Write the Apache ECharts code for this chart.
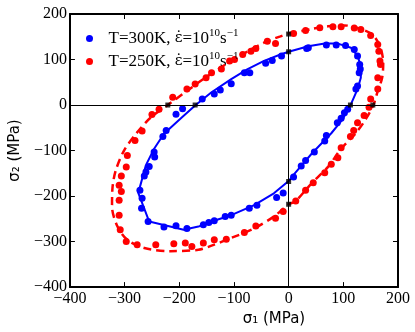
<!DOCTYPE html>
<html><head><meta charset="utf-8">
<script src="https://cdn.jsdelivr.net/npm/echarts@6.0.0/dist/echarts.min.js"></script>
<style>html,body{margin:0;padding:0;background:#fff}#c{width:415px;height:332px}</style>
</head><body><div id="c"></div>
<script>
const xTicks = [-400, -300, -200, -100, 0, 100, 200];
const yTicks = [-400, -300, -200, -100, 0, 100, 200];
const xName = 'σ₁ (MPa)';
const yName = 'σ₂ (MPa)';
const name300 = 'T=300K, ε̇=10^10 s^-1';
const name250 = 'T=250K, ε̇=10^10 s^-1';

const blueDots = [
  [-13,108],[33,124],[36,126],[69,132],[87,132],[104,131],[120,122],[126,108],[130,89],[131,79],[129,71],
  [126,42],[123,35],[108,-9],[102,-17],[96,-29],[89,-39],[69,-67],[66,-79],[47,-103],[31,-122],[23,-134],
  [9,-158],[-10,-193],[-22,-203],[-58,-220],[-72,-227],[-105,-242],[-116,-245],[-136,-254],[-146,-258],
  [-156,-263],[-186,-271],[-206,-265],[-228,-268],[-257,-256],[-269,-227],[-268,-205],[-272,-187],
  [-264,-156],[-261,-147],[-255,-135],[-245,-114],[-246,-103],[-230,-69],[-224,-56],[-206,-20],[-194,-8],
  [-158,13],[-136,24],[-125,33],[-105,47],[-81,71],[-71,71],[-42,92],[-30,98]
];
const redDots = [
  [9,157],[31,164],[57,170],[81,172],[96,172],[120,169],[132,166],[150,153],[163,133],[165,118],[167,97],
  [168,89],[163,60],[163,35],[150,13],[147,-5],[138,-23],[126,-39],[119,-56],[113,-69],[96,-94],[90,-116],
  [78,-130],[66,-149],[45,-171],[31,-187],[13,-211],[-10,-234],[-24,-249],[-60,-266],[-81,-280],[-114,-295],
  [-136,-296],[-156,-303],[-177,-311],[-189,-303],[-210,-305],[-243,-307],[-277,-307],[-297,-300],
  [-308,-274],[-310,-242],[-310,-209],[-306,-190],[-310,-176],[-306,-156],[-297,-136],[-295,-111],
  [-281,-78],[-268,-57],[-250,-21],[-237,-9],[-212,17],[-186,35],[-171,46],[-151,60],[-141,71],[-123,79],
  [-108,97],[-99,100],[-84,111],[-69,118],[-60,124],[-39,140],[-24,135]
];
const blueFit = [
  [0,117],[36,129],[66,135],[90,135],[114,126],[126,108],[132,86],[132,60],[126,35],[114,2],[99,-31],
  [78,-62],[42,-107],[12,-149],[0,-167],[-27,-194],[-63,-220],[-105,-242],[-141,-256],[-165,-267],
  [-192,-274],[-255,-256],[-275,-193],[-261,-132],[-246,-96],[-228,-63],[-195,-27],[-170,0],[-141,28],
  [-105,57],[-75,79],[-45,97],[-15,111],[0,117]
];
const redFit = [
  [0,157],[42,167],[72,173],[102,175],[132,167],[153,155],[167,129],[173,93],[171,60],[163,31],[155,0],
  [141,-31],[122,-63],[96,-96],[72,-136],[42,-172],[12,-212],[0,-218],[-27,-245],[-63,-271],[-105,-292],
  [-141,-309],[-165,-318],[-216,-321],[-264,-314],[-295,-296],[-313,-267],[-323,-223],[-322,-180],
  [-316,-143],[-301,-100],[-279,-63],[-252,-27],[-221,0],[-186,31],[-150,62],[-105,97],[-75,118],
  [-45,137],[-15,151],[0,157]
];
const intercepts = [[-221,0],[154,0],[0,156],[0,-218],[-171,0],[113,0],[0,117],[0,-168]];

const fmt = v => (v < 0 ? '\u2212' + (-v) : '' + v);
const serif = 'Liberation Serif';
const frame = {lineStyle: {color: '#000', width: 2}, onZero: false};
const ticks = {inside: true, length: 5, lineStyle: {color: '#000', width: 1}};
const xMin = xTicks[0], xMax = xTicks[xTicks.length - 1], xInt = xTicks[1] - xTicks[0];
const yMin = yTicks[0], yMax = yTicks[yTicks.length - 1], yInt = yTicks[1] - yTicks[0];

const legendText = n => {
  const T = n === name300 ? 'T=300K, ' : 'T=250K, ';
  return '{t|' + T + '}{e|ε̇}{t|=10}{sup|10}{t|s}{sup|\u22121}';
};

const chart = echarts.init(document.getElementById('c'), null, {renderer: 'canvas'});
chart.setOption({
  animation: false,
  backgroundColor: '#fff',
  grid: {left: 64, right: 17, top: 14, bottom: 43},
  legend: {
    orient: 'vertical', left: 81, top: 23, itemGap: 4, itemWidth: 28, itemHeight: 7,
    icon: 'circle', data: [name300, name250],
    formatter: legendText,
    textStyle: {
      rich: {
        t: {fontFamily: serif, fontSize: 17, color: '#000', lineHeight: 21},
        e: {fontFamily: 'DejaVu Serif', fontSize: 15, color: '#000', lineHeight: 21},
        sup: {fontFamily: serif, fontSize: 11, color: '#000', lineHeight: 13, verticalAlign: 'top'}
      }
    }
  },
  xAxis: [
    {type: 'value', min: xMin, max: xMax, interval: xInt, position: 'bottom', axisLine: frame, axisTick: ticks,
     splitLine: {show: false},
     axisLabel: {color: '#000', fontFamily: serif, fontSize: 16, margin: 4, formatter: fmt},
     name: xName, nameLocation: 'middle', nameGap: 20,
     nameTextStyle: {fontFamily: 'DejaVu Sans', fontSize: 15, color: '#000', padding: [0, 0, 0, 80]}},
    {type: 'value', min: xMin, max: xMax, interval: xInt, position: 'top', axisLine: frame, axisTick: ticks,
     splitLine: {show: false}, axisLabel: {show: false}}
  ],
  yAxis: [
    {type: 'value', min: yMin, max: yMax, interval: yInt, position: 'left', axisLine: frame, axisTick: ticks,
     splitLine: {show: false},
     axisLabel: {color: '#000', fontFamily: serif, fontSize: 16, margin: 3, formatter: fmt},
     name: yName, nameLocation: 'middle', nameGap: 41,
     nameTextStyle: {fontFamily: 'DejaVu Sans', fontSize: 15, color: '#000'}},
    {type: 'value', min: yMin, max: yMax, interval: yInt, position: 'right', axisLine: frame, axisTick: ticks,
     splitLine: {show: false}, axisLabel: {show: false}}
  ],
  series: [
    {name: 'zero', type: 'line', data: [], silent: true,
     markLine: {silent: true, symbol: 'none', label: {show: false},
       lineStyle: {color: '#000', width: 1, type: 'solid'},
       data: [{xAxis: 0}, {yAxis: 0}]}},
    {name: name300, type: 'scatter', data: blueDots, symbol: 'circle', symbolSize: 7,
     itemStyle: {color: '#0000ff', opacity: 1}, z: 3},
    {name: name250, type: 'scatter', data: redDots, symbol: 'circle', symbolSize: 7,
     itemStyle: {color: '#ff0000', opacity: 1}, z: 3},
    {name: 'fit300', type: 'line', data: blueFit, showSymbol: false, smooth: false,
     lineStyle: {color: '#0000ff', width: 2}, z: 4},
    {name: 'fit250', type: 'line', data: redFit, showSymbol: false, smooth: 0.3,
     lineStyle: {color: '#ff0000', width: 2.5, type: [8, 5]}, z: 4},
    {name: 'intercepts', type: 'scatter', data: intercepts, symbol: 'rect', symbolSize: 5,
     itemStyle: {color: '#000'}, z: 5}
  ]
});
</script>
</body></html>
